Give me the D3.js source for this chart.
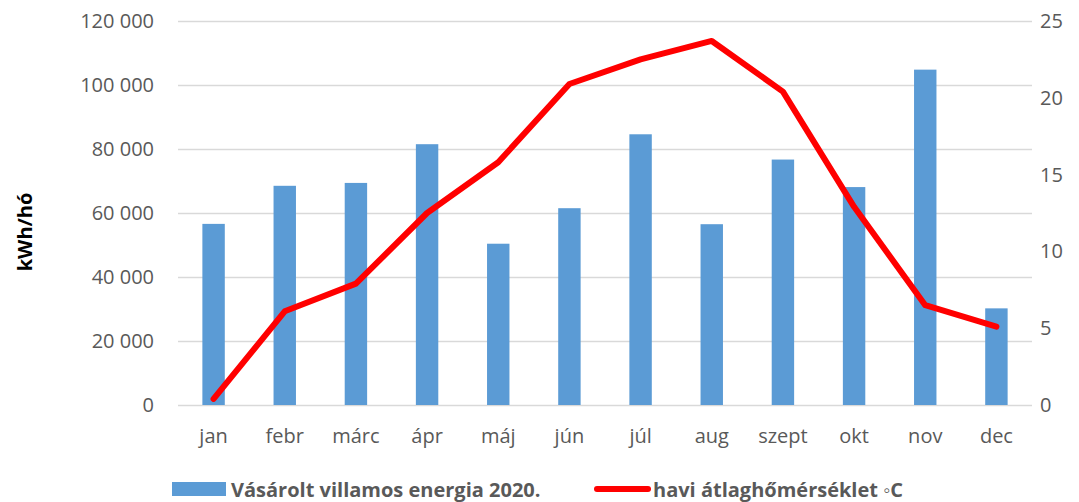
<!DOCTYPE html>
<html>
<head>
<meta charset="utf-8">
<script src="https://cdn.jsdelivr.net/npm/d3@7"></script>
<style>
  body { margin: 0; background: #fff; }
  svg text { font-family: "Open Sans", "Noto Sans", sans-serif; }
</style>
</head>
<body>
<div id="chart"></div>
<script>
const months = ["jan", "febr", "márc", "ápr", "máj", "jún", "júl", "aug", "szept", "okt", "nov", "dec"];
const energy = [56600, 68500, 69400, 81500, 50400, 61500, 84600, 56500, 76700, 68100, 104800, 30200];
const temperature = [0.4, 6.1, 7.9, 12.5, 15.8, 20.9, 22.5, 23.7, 20.4, 12.9, 6.5, 5.1];
const energyTicks = [0, 20000, 40000, 60000, 80000, 100000, 120000];
const tempTicks = [0, 5, 10, 15, 20, 25];
const barLabel = "Vásárolt villamos energia 2020.";
const lineLabel = "havi átlaghőmérséklet ◦C";
const yTitle = "kWh/hó";

const config = {
  width: 1079,
  height: 502,
  margin: { top: 21, right: 47, bottom: 97, left: 178 },
};

const width = config.width - config.margin.left - config.margin.right;
const height = config.height - config.margin.top - config.margin.bottom;

const svg = d3.select("#chart").append("svg")
  .attr("width", config.width)
  .attr("height", config.height);

const chart = svg.append("g")
  .attr("transform", `translate(${config.margin.left},${config.margin.top})`);

// scales
const x = d3.scaleBand().domain(months).range([0, width])
  .paddingInner(0.685).paddingOuter(0.3425);
const yLeft = d3.scaleLinear().domain([0, 120000]).range([height, 0]);
const yRight = d3.scaleLinear().domain([0, 25]).range([height, 0]);

const fmt = (d) => d3.format(",")(d).replace(/,/g, " ");

// gridlines
chart.append("g")
  .call(d3.axisLeft(yLeft).tickValues(energyTicks).tickSize(-width).tickFormat(""))
  .call((g) => g.select(".domain").remove())
  .call((g) => g.selectAll("line").attr("stroke", "#d9d9d9").attr("stroke-width", 1.3));

// left axis labels
chart.append("g")
  .call(d3.axisLeft(yLeft).tickValues(energyTicks).tickSize(0).tickPadding(24).tickFormat(fmt))
  .call((g) => g.select(".domain").remove())
  .call((g) => g.selectAll("text")
    .attr("fill", "#595959").style("font-size", "20px").style("font-family", "Open Sans"));

// right axis labels
chart.append("g")
  .attr("transform", `translate(${width},0)`)
  .call(d3.axisRight(yRight).tickValues(tempTicks).tickSize(0).tickPadding(8))
  .call((g) => g.select(".domain").remove())
  .call((g) => g.selectAll("text")
    .attr("fill", "#595959").style("font-size", "20px").style("font-family", "Open Sans"));

// x axis labels
chart.append("g")
  .attr("transform", `translate(0,${height})`)
  .call(d3.axisBottom(x).tickSize(0).tickPadding(24))
  .call((g) => g.select(".domain").remove())
  .call((g) => g.selectAll("text")
    .attr("fill", "#595959").style("font-size", "20px").style("font-family", "Open Sans"));

// bars
chart.selectAll(".bar")
  .data(months)
  .join("rect")
  .attr("class", "bar")
  .attr("x", (d) => x(d))
  .attr("width", x.bandwidth())
  .attr("y", (d, i) => yLeft(energy[i]))
  .attr("height", (d, i) => height - yLeft(energy[i]))
  .attr("fill", "#5b9bd5");

// temperature line
const line = d3.line()
  .x((d, i) => x(months[i]) + x.bandwidth() / 2)
  .y((d) => yRight(d));

chart.append("path")
  .datum(temperature)
  .attr("d", line)
  .attr("fill", "none")
  .attr("stroke", "#ff0000")
  .attr("stroke-width", 6)
  .attr("stroke-linejoin", "round")
  .attr("stroke-linecap", "round");

// y axis title
svg.append("text")
  .attr("transform", "translate(32,232) rotate(-90)")
  .attr("text-anchor", "middle")
  .attr("fill", "#000")
  .style("font-size", "20px")
  .style("font-weight", "bold")
  .text(yTitle);

// legend
const legend = svg.append("g").attr("class", "legend");

legend.append("rect")
  .attr("x", 172).attr("y", 482)
  .attr("width", 54).attr("height", 14)
  .attr("fill", "#5b9bd5");

legend.append("text")
  .attr("x", 231).attr("y", 497)
  .attr("fill", "#595959")
  .style("font-size", "20px")
  .style("font-weight", "bold")
  .text(barLabel);

legend.append("line")
  .attr("x1", 597).attr("x2", 648)
  .attr("y1", 489).attr("y2", 489)
  .attr("stroke", "#ff0000")
  .attr("stroke-width", 6)
  .attr("stroke-linecap", "round");

legend.append("text")
  .attr("x", 653).attr("y", 497)
  .attr("fill", "#595959")
  .style("font-size", "20px")
  .style("font-weight", "bold")
  .text(lineLabel);
</script>
</body>
</html>
